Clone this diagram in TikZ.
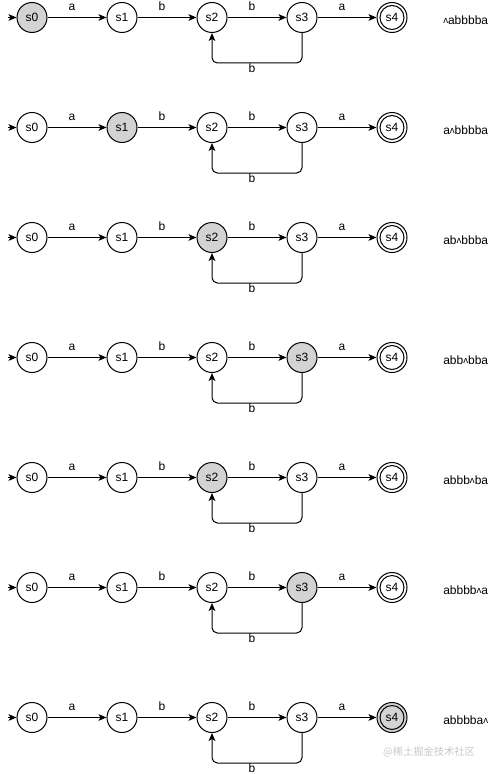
\documentclass[tikz,border=0pt]{standalone}
\usepackage{fontspec}
\setmainfont{Liberation Sans}
\newfontfamily\cjkfont{Noto Sans CJK SC}
\usetikzlibrary{arrows.meta}
\definecolor{visited}{HTML}{D3D3D3}
\definecolor{mark}{HTML}{C8C8C8}
\newcommand\hd{\raisebox{0.2ex}{\scalebox{0.8}{ʌ}}}
\tikzset{
  state/.style = {circle, draw = black, line width = 0.75pt, minimum size = 22.5pt, inner sep = 0pt, font = \fontsize{9}{10}\selectfont},
  edge/.style = {line width = 0.75pt, -{Stealth[length = 6pt, width = 5pt, inset = 1.5pt]}},
  elabel/.style = {font = \fontsize{9}{10}\selectfont, text height = 6.5pt, text depth = 2pt, inner sep = 0pt, xshift = -3.75pt},
  looplabel/.style = {elabel, text depth = 0pt}
}
\begin{document}
\begin{tikzpicture}[x = 0.75pt, y = -0.75pt]
\useasboundingbox (0,0) rectangle (491,774);
\foreach \y/\cur/\word [count = \r] in {17.5/0/\hd abbbba, 127.5/1/a\hd bbbba, 237.5/2/ab\hd bbba, 357.5/3/abb\hd bba, 477.5/2/abbb\hd ba, 587.5/3/abbbb\hd a, 717.5/4/abbbba\hd}
{
  % states of one row
  \foreach \i in {0,...,4}
  {
    \ifnum\i=\cur \def\fc{visited}\else \def\fc{white}\fi
    \node[state, fill = \fc] (s\i-\r) at (32+90*\i,\y) {s\i};
  }
  \draw[line width = 0.75pt] (s4-\r.center) circle (9pt);
  \coordinate (in-\r) at (8,\y);
  \draw[edge] (in-\r) -- (s0-\r);
  \draw[edge] (s0-\r) -- node[elabel, yshift = 7.5pt] {a} (s1-\r);
  \draw[edge] (s1-\r) -- node[elabel, yshift = 7.5pt] {b} (s2-\r);
  \draw[edge] (s2-\r) -- node[elabel, yshift = 7.5pt] {b} (s3-\r);
  \draw[edge] (s3-\r) -- node[elabel, yshift = 7.5pt] {a} (s4-\r);
  \draw[edge, rounded corners = 4pt] (s3-\r.south) -- ++(0,30) -| node[pos = 0.25, looplabel, yshift = -4.05pt] {b} (s2-\r.south);
  \node[anchor = west, inner sep = 0pt, font = \fontsize{9}{10}\selectfont] (w-\r) at (443,\y+3) {\word};
}
\node[text = mark, inner sep = 0pt, font = \cjkfont\fontsize{7.7}{9}\selectfont] (wm) at (429,752) {@稀土掘金技术社区};
\end{tikzpicture}
\end{document}
